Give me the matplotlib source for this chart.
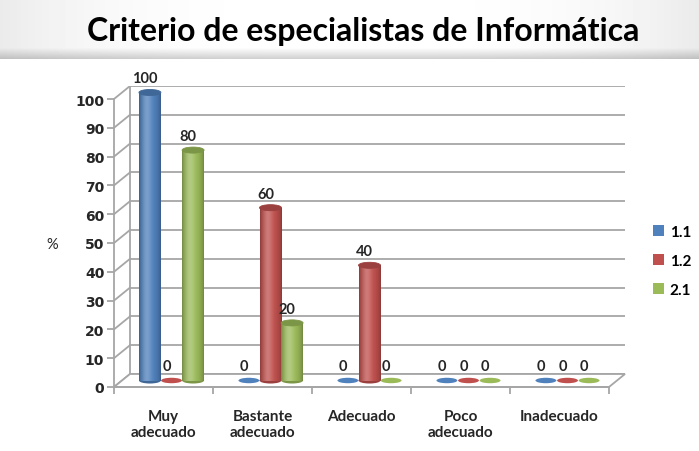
import numpy as np
import matplotlib
matplotlib.use("Agg")
import matplotlib.pyplot as plt
from matplotlib.patches import Ellipse, Polygon, Patch

# datos del grafico
categorias = ["Muy\nadecuado", "Bastante\nadecuado", "Adecuado", "Poco\nadecuado", "Inadecuado"]
series = ["1.1", "1.2", "2.1"]
valores_11 = [100, 0, 0, 0, 0]
valores_12 = [0, 60, 40, 0, 0]
valores_21 = [80, 20, 0, 0, 0]
colores = ["#4F81BD", "#C0504D", "#9BBB59"]
yticks = [0, 10, 20, 30, 40, 50, 60, 70, 80, 90, 100]

plt.rcParams['font.family'] = ['Lato', 'DejaVu Sans']

W, H = 699, 452
fig = plt.figure(figsize=(W / 100, H / 100), dpi=100)

# banda del titulo con degradado suave
axt = fig.add_axes([0, 1 - 60 / H, 1, 60 / H])
grad = np.ones((60, 200))
xs = np.linspace(-1, 1, 200)
grad = grad * (1 - 0.08 * np.abs(xs) ** 3)[None, :]
ys = np.linspace(0, 1, 60)
grad = grad * (1 - 0.18 * np.clip((ys - 0.82) / 0.18, 0, 1))[:, None]
axt.imshow(grad, cmap="gray", vmin=0, vmax=1, aspect="auto", extent=(0, 1, 0, 1))
axt.axis("off")
fig.text(363 / W, 1 - 31 / H, "Criterio de especialistas de Informática",
         fontsize=23, fontweight="bold", ha="center", va="center")

# ejes: unidad x = 99 px, unidad y = 2.88 px
px_x, px_y = 99.0, 2.88
DX = 16 / px_x
DY = 13 / px_y
x0_px, y0_px = 114, 388
n = len(categorias)
ax = fig.add_axes([x0_px / W, (H - y0_px) / H, (n + DX) * px_x / W, (100 + DY) * px_y / H])
ax.set_xlim(0, n + DX)
ax.set_ylim(0, 100 + DY)

grid_c = "#A6A6A6"
# pared del fondo y lateral
for t in yticks:
    ax.plot([DX, n + DX], [t + DY, t + DY], color=grid_c, lw=1.3, zorder=1)
    ax.plot([0, DX], [t, t + DY], color=grid_c, lw=1.3, zorder=1)
ax.plot([DX, DX], [DY, 100 + DY], color=grid_c, lw=1.3, zorder=1)

# suelo
floor = Polygon([(0, 0), (n, 0), (n + DX, DY), (DX, DY)], closed=True,
                facecolor="white", edgecolor=grid_c, lw=1.3, zorder=1.5, clip_on=False)
ax.add_patch(floor)


def cilindro_grad(color):
    c = np.array(matplotlib.colors.to_rgb(color))
    t = np.linspace(0, 1, 40)
    luz = np.exp(-((t - 0.35) / 0.22) ** 2)
    sombra = 0.72 + 0.28 * np.sin(np.pi * t) ** 0.6
    img = c[None, :] * sombra[:, None]
    img = img + (1 - img) * (0.25 * luz)[:, None]
    return np.clip(img[None, :, :], 0, 1)


bw = 0.222
sep = 0.218
eh = 2.1
todas = [valores_11, valores_12, valores_21]
for j, vals in enumerate(todas):
    col = colores[j]
    img = cilindro_grad(col)
    dark = np.clip(np.array(matplotlib.colors.to_rgb(col)) * 0.8, 0, 1)
    for i, v in enumerate(vals):
        cx = i + 0.5 + (j - 1) * sep + DX / 2
        base = DY / 2
        if v > 0:
            ax.add_patch(Ellipse((cx, base), bw, eh, facecolor=dark, edgecolor="none", zorder=3))
            ax.imshow(img, extent=(cx - bw / 2, cx + bw / 2, base, base + v),
                      aspect="auto", interpolation="bilinear", zorder=3)
            ax.add_patch(Ellipse((cx, base + v), bw, eh, facecolor=dark,
                                 edgecolor=dark, lw=0.6, zorder=4))
        else:
            ax.add_patch(Ellipse((cx, base), bw * 0.95, eh * 0.9, facecolor=col,
                                 edgecolor="none", zorder=3))
        ax.text(cx - 0.05, base + v + 4.9, str(v), ha="center", va="center",
                fontsize=10.5, fontweight="bold", color="#262626", zorder=5)

ax.set_xlim(0, n + DX)
ax.set_ylim(0, 100 + DY)

for s in ["top", "right"]:
    ax.spines[s].set_visible(False)
ax.spines["left"].set_bounds(0, 100)
ax.spines["bottom"].set_bounds(0, n)
ax.spines["left"].set_color(grid_c)
ax.spines["bottom"].set_color(grid_c)
ax.spines["left"].set_linewidth(1.3)
ax.spines["bottom"].set_linewidth(1.3)

ax.set_yticks(yticks)
ax.set_yticklabels([str(t) for t in yticks], fontsize=10, fontweight="bold",
                   color="#262626", family="DejaVu Sans")
ax.tick_params(axis="y", length=5, color=grid_c, width=1.3, pad=2)
ax.set_xticks(np.arange(n + 1))
ax.set_xticklabels([""] * (n + 1))
ax.tick_params(axis="x", length=5, color=grid_c, width=1.3)
for i, cat in enumerate(categorias):
    ax.text(i + 0.5, -7.5, cat, ha="center", va="top", fontsize=11,
            fontweight="bold", color="#262626", linespacing=1.2)

fig.text(52 / W, 1 - 245 / H, "%", ha="center", va="center", fontsize=10.5, color="#262626")

handles = [Patch(facecolor=c, edgecolor="none") for c in colores]
fig.legend(handles, series, loc="center left", bbox_to_anchor=(653 / W, 1 - 262 / H),
           frameon=False, handlelength=0.7, handleheight=0.7, handletextpad=0.4,
           borderaxespad=0, borderpad=0, labelspacing=0.98,
           prop={"size": 11, "weight": "bold"})

fig.savefig("out.png", dpi=100)
